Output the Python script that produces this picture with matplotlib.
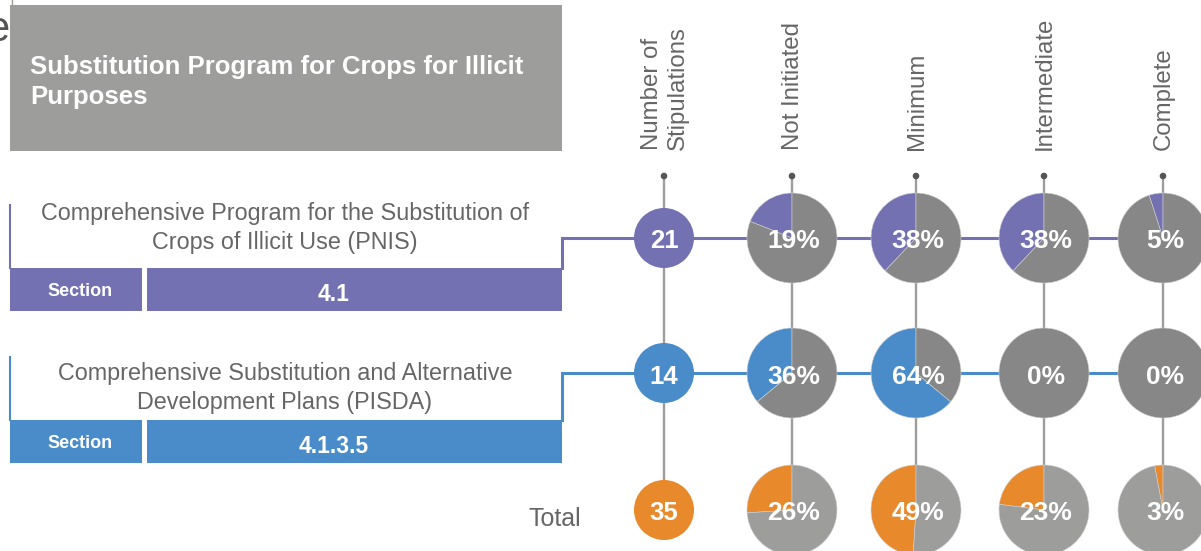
import matplotlib
matplotlib.use("Agg")
import matplotlib.pyplot as plt
from matplotlib.patches import Rectangle, Circle

# ---------------- data ----------------
title = "Substitution Program for Crops for Illicit\nPurposes"
columns = ["Number of\nStipulations", "Not Initiated", "Minimum", "Intermediate", "Complete"]
row_names = ["Comprehensive Program for the Substitution of\nCrops of Illicit Use (PNIS)",
             "Comprehensive Substitution and Alternative\nDevelopment Plans (PISDA)"]
row_sections = ["4.1", "4.1.3.5"]
stipulations = [21, 14, 35]
pnis_pct = [19, 38, 38, 5]
pisda_pct = [36, 64, 0, 0]
total_pct = [26, 49, 23, 3]
total_label = "Total"

# ---------------- style ----------------
W, H = 1201, 551
PURPLE = "#7471b2"
BLUE = "#4a8cc9"
ORANGE = "#e8892b"
DGRAY = "#878787"
LGRAY = "#9d9d9c"
TEXTGRAY = "#666666"
FONT = "Liberation Sans"

fig = plt.figure(figsize=(W / 100, H / 100), dpi=100)
ax = fig.add_axes([0, 0, 1, 1])


def Y(py):
    return H - py


col_x = [664, 792, 916, 1044, 1163]
row_y = [238, 373, 510]
row_colors = [PURPLE, BLUE, ORANGE]
row_rest = [DGRAY, DGRAY, LGRAY]
pcts = [pnis_pct, pisda_pct, total_pct]
PIE_R = 45
NUM_R = 30

# title box
ax.add_patch(Rectangle((10, Y(151)), 552, 146, facecolor="#9d9d9b", edgecolor="none", zorder=1))
ax.plot([12, 12], [Y(0), Y(5)], color="#9a9a9a", lw=1, zorder=1)
ax.text(30, Y(82), title, color="white", fontsize=18.5, fontweight="bold", family=FONT,
        ha="left", va="center", linespacing=1.3, zorder=2)
ax.text(9, Y(30), "e", color="#555555", fontsize=30, family=FONT, ha="right", va="center", zorder=0)

# row label blocks
label_y = [228, 388]
bar_top = [268, 420]
line_top = [205, 357]
for i in range(2):
    c = row_colors[i]
    ax.plot([10, 10], [Y(line_top[i]), Y(bar_top[i])], color=c, lw=1.5, zorder=1)
    ax.text(285, Y(label_y[i]), row_names[i], color=TEXTGRAY, fontsize=16.8, family=FONT,
            ha="center", va="center", linespacing=1.33, zorder=2)
    ax.add_patch(Rectangle((10, Y(bar_top[i] + 43)), 132, 43, facecolor=c, edgecolor="none", zorder=1))
    ax.add_patch(Rectangle((147, Y(bar_top[i] + 43)), 415, 43, facecolor=c, edgecolor="none", zorder=1))
    ax.text(80, Y(bar_top[i] + 22), "Section", color="white", fontsize=13, fontweight="bold",
            family=FONT, ha="center", va="center_baseline", zorder=2)
    ax.text(334, Y(bar_top[i] + 24), row_sections[i], color="white", fontsize=16.5, fontweight="bold",
            family=FONT, ha="center", va="center_baseline", zorder=2)
    # connector
    ax.plot([562, 562, W + 5], [Y(bar_top[i]), Y(row_y[i]), Y(row_y[i])], color=c, lw=2.2,
            zorder=1, solid_joinstyle="miter")

ax.text(581, Y(516), total_label, color=TEXTGRAY, fontsize=18, family=FONT,
        ha="right", va="center_baseline", zorder=2)

# column headers, vertical lines, dots
for j, cx in enumerate(col_x):
    ax.text(cx + 1, Y(150), columns[j], color=TEXTGRAY, fontsize=17.3, family=FONT, rotation=90,
            ha="center", va="bottom", linespacing=1.2, multialignment="left", zorder=2)
    ax.plot([cx, cx], [Y(176), Y(row_y[2])], color=LGRAY, lw=1.7, zorder=1)
    ax.add_patch(Circle((cx, Y(176)), 3.3, facecolor="#555555", edgecolor="none", zorder=3))

# number circles
for i in range(3):
    ax.add_patch(Circle((col_x[0], Y(row_y[i])), NUM_R, facecolor=row_colors[i],
                        edgecolor="none", zorder=3))
    ax.text(col_x[0], Y(row_y[i] + 1), str(stipulations[i]), color="white", fontsize=18.5,
            fontweight="bold", family=FONT, ha="center", va="center_baseline", zorder=5)

# pies
for i in range(3):
    for j in range(4):
        p = pcts[i][j]
        wedges, _ = ax.pie([p, 100 - p], colors=[row_colors[i], row_rest[i]], startangle=90,
                           counterclock=True, center=(col_x[j + 1], Y(row_y[i])), radius=PIE_R,
                           wedgeprops=dict(edgecolor="#d0d0d0", linewidth=0.4))
        for w in wedges:
            w.set_zorder(3)
        ax.text(col_x[j + 1] + 2, Y(row_y[i] + 1), f"{p}%", color="white", fontsize=19,
                fontweight="bold", family=FONT, ha="center", va="center_baseline", zorder=5)

ax.set_xlim(0, W)
ax.set_ylim(0, H)
ax.set_aspect("equal")
ax.axis("off")
fig.savefig("out.png", dpi=100)
